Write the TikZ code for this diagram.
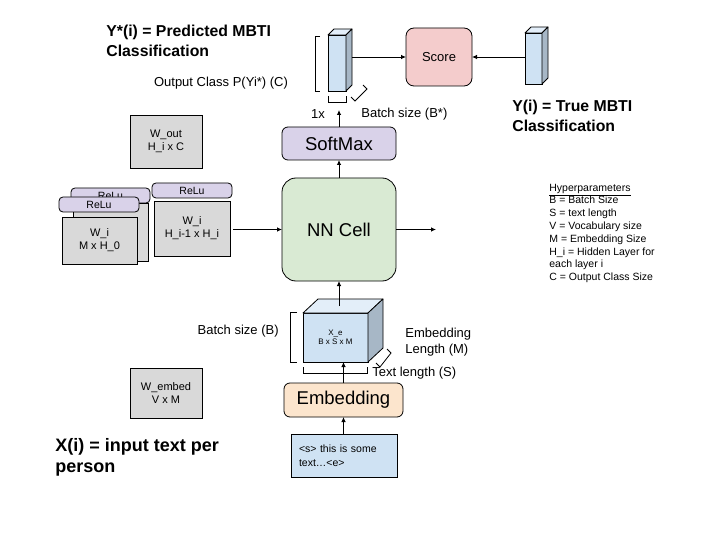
\documentclass[tikz,border=0pt]{standalone}
\usepackage{fontspec}
\setmainfont{Liberation Sans}
\usetikzlibrary{arrows.meta,calc}
\definecolor{cblue}{HTML}{CFE2F3}
\definecolor{cblueside}{HTML}{A7B7C6}
\definecolor{cbluetop}{HTML}{E3EEF9}
\definecolor{cgreen}{HTML}{D9EAD3}
\definecolor{cpurple}{HTML}{D9D2E9}
\definecolor{cpink}{HTML}{F4CCCC}
\definecolor{cpeach}{HTML}{FCE5CD}
\definecolor{cgrey}{HTML}{D9D9D9}
\begin{document}
\begin{tikzpicture}[x=1pt,y=-1pt,
  line width=0.8pt,
  arr/.style={-{Latex[length=5pt,width=4.5pt]}, line width=0.8pt},
  shp/.style={draw=black, line width=0.8pt, inner sep=0pt, outer sep=0pt, align=center},
  wbox/.style={shp, fill=cgrey, font=\fontsize{11}{13}\selectfont},
  pill/.style={shp, fill=cpurple, rounded corners=4pt, font=\fontsize{10.5}{12}\selectfont},
  bigbox/.style={shp, rounded corners=6pt, font=\fontsize{18.5}{22}\selectfont},
  lbl/.style={inner sep=0pt, font=\fontsize{13}{16}\selectfont, align=left},
  ttl/.style={inner sep=0pt, font=\bfseries\fontsize{15.8}{20}\selectfont, align=left},
  face/.style={draw=black, line width=0.8pt, line join=round},
  brk/.style={line width=0.8pt},
]
\fill[white] (0,0) rectangle (720,540);
\useasboundingbox (0,0) rectangle (720,540);

% titles
\node[ttl, anchor=west] (ttlpred) at (106,41) {Y*(i) = Predicted MBTI\\Classification};
\node[ttl, anchor=west] (ttltrue) at (512,116) {Y(i) = True MBTI\\Classification};
\node[ttl, anchor=west, font=\bfseries\fontsize{18}{21}\selectfont] (ttlin) at (55,457) {X(i) = input text per\\person};

% weight boxes
\node[wbox, minimum width=72pt, minimum height=53pt] (wout) at (166,141.5) {W\_out\\H\_i x C};
\node[wbox, minimum width=72pt, minimum height=50pt] (wemb) at (166,393) {W\_embed\\V x M};

% ReLu stack (back card)
\node[wbox, minimum width=75pt, minimum height=58pt] (wb) at (110.5,232) {};
\node[pill, minimum width=79pt, minimum height=15pt] (rb) at (110.5,195.5) {ReLu};
% front card
\node[pill, minimum width=80pt, minimum height=15pt] (rf) at (99,204.5) {ReLu};
\node[wbox, minimum width=75pt, minimum height=47pt] (wf) at (99.5,240.5) {W\_i\\M x H\_0};
% right card
\node[pill, minimum width=80pt, minimum height=15pt] (rr) at (192,190.5) {ReLu};
\node[wbox, minimum width=76pt, minimum height=55pt] (wr) at (192,228.5) {W\_i\\H\_i-1 x H\_i};

% main boxes
\node[bigbox, fill=cgreen, rounded corners=14pt, minimum width=114pt, minimum height=103pt] (nn) at (339,229.5) {NN Cell};
\node[bigbox, fill=cpurple, minimum width=114pt, minimum height=33pt] (sm) at (339,143.5) {SoftMax};
\node[bigbox, fill=cpeach, minimum width=119pt, minimum height=34pt] (emb) at (343.5,400) {Embedding};
\node[shp, fill=cpink, rounded corners=8pt, minimum width=66pt, minimum height=58pt, font=\fontsize{13}{15}\selectfont] (score) at (439,57) {Score};
\node[shp, fill=cblue, minimum height=43pt, text width=90pt, inner xsep=8pt, align=left, font=\fontsize{10.5}{13.5}\selectfont] (txt) at (344,455.5) {<s> this is some\\text…<e>};

% cube X_e
\node[shp, fill=cblue, minimum width=65pt, minimum height=49pt, font=\fontsize{8}{9.5}\selectfont] (xe) at (335.5,337.5) {X\_e\\B x S x M};
\filldraw[face, fill=cbluetop] (xe.north west) -- ($(xe.north west)+(15,-14)$) -- ($(xe.north east)+(15,-14)$) -- (xe.north east) -- cycle;
\filldraw[face, fill=cblueside] (xe.north east) -- ($(xe.north east)+(15,-14)$) -- ($(xe.south east)+(15,-14)$) -- (xe.south east) -- cycle;
\coordinate (xetop) at ($(xe.north)+(7.5,-7)$);

% output column
\node[shp, fill=cblue, minimum width=18pt, minimum height=56pt] (oc) at (337,63) {};
\filldraw[face, fill=cbluetop] (oc.north west) -- ($(oc.north west)+(6,-6)$) -- ($(oc.north east)+(6,-6)$) -- (oc.north east) -- cycle;
\filldraw[face, fill=cblueside] (oc.north east) -- ($(oc.north east)+(6,-6)$) -- ($(oc.south east)+(6,-6)$) -- (oc.south east) -- cycle;
\coordinate (ocr) at ($(oc.north east)+(6,0)$);

% true column
\node[shp, fill=cblue, minimum width=17pt, minimum height=51pt] (tc) at (533.5,58.5) {};
\filldraw[face, fill=cbluetop] (tc.north west) -- ($(tc.north west)+(6,-6)$) -- ($(tc.north east)+(6,-6)$) -- (tc.north east) -- cycle;
\filldraw[face, fill=cblueside] (tc.north east) -- ($(tc.north east)+(6,-6)$) -- ($(tc.south east)+(6,-6)$) -- (tc.south east) -- cycle;

% brackets
\draw[brk] (320,36) -- (315,36) -- (315,91) -- (320,91);
\draw[brk] (328,96) -- (328,102) -- (346,102) -- (346,96);
\draw[brk] (351,97) -- (355,101) -- (367,89) -- (363,85);
\draw[brk] (297,312) -- (290,312) -- (290,362) -- (297,362);
\draw[brk] (303,367) -- (303,373) -- (367,373) -- (367,367);
\draw[brk] (376,363) -- (380,367) -- (391,353) -- (387,349);

% labels
\node[lbl] (lout) at (221,83) {Output Class P(Yi*) (C)};
\node[lbl] (l1x) at (318,114) {1x};
\node[lbl, anchor=west] (lbstar) at (361,114) {Batch size (B*)};
\node[lbl, anchor=east] (lb) at (279,331) {Batch size (B)};
\node[lbl, anchor=west] (lm) at (405,342.5) {Embedding\\Length (M)};
\node[lbl, anchor=west] (ls) at (372,373) {Text length (S)};

% hyperparameters
\node[inner sep=0pt, anchor=north west, align=left, font=\fontsize{10.5}{12.8}\selectfont] (hyp) at (549,183.5)
 {\underline{Hyperparameters}\\B = Batch Size\\S = text length\\V = Vocabulary size\\M = Embedding Size\\H\_i = Hidden Layer for\\each layer i\\C = Output Class Size};

% connectors
\coordinate (smtip) at (339,110);
\coordinate (nnout) at (436,229.5);
\draw[arr] (txt.north -| emb.south) -- (emb.south);
\draw[arr] (emb.north) -- (emb.north |- xe.south);
\draw[arr] (nn.south |- xetop) -- (nn.south);
\draw[arr] (nn.north) -- (sm.south);
\draw[arr] (sm.north) -- (smtip);
\draw[arr] (nn.east) -- (nnout);
\draw[arr] ([xshift=3pt]wr.east |- nn.west) -- (nn.west);
\draw[arr] (ocr |- score.west) -- (score.west);
\draw[arr] (tc.west |- score.east) -- (score.east);
\end{tikzpicture}
\end{document}
